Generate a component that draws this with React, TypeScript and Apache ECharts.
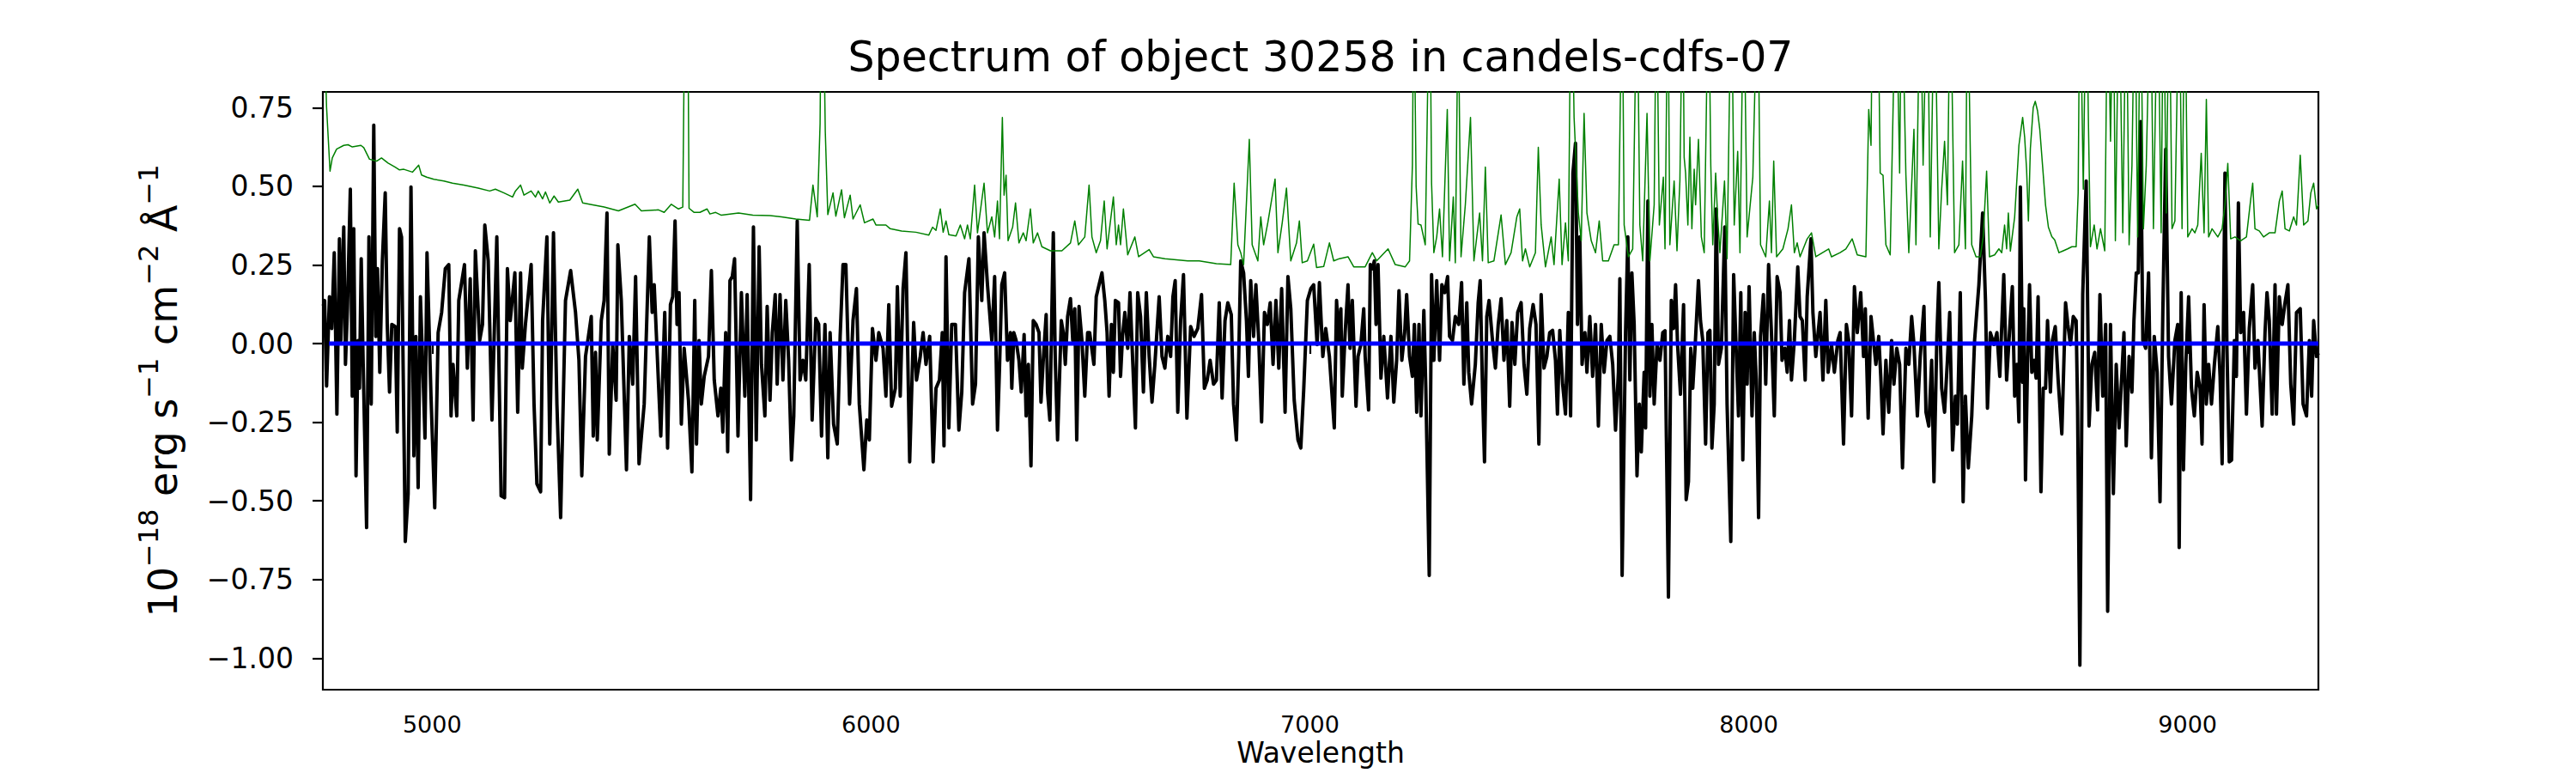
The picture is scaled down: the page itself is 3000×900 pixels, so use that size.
import React, { useEffect, useRef } from "react";
import * as echarts from "echarts";

const TITLE = "Spectrum of object 30258 in candels-cdfs-07";
const X_NAME = "Wavelength";
const X_TICKS = [5000, 6000, 7000, 8000, 9000];
const Y_TICKS = [-1, -0.75, -0.5, -0.25, 0, 0.25, 0.5, 0.75];
const X_RANGE = [4751, 9298];
const Y_RANGE = [-1.1, 0.8];

// contamination model (blue), flat zero
const contamData = [[4765, 0], [9298, 0]];

// observed flux (black), [wavelength, flux]
const flux1 = [
  [4752,0.12],[4755,0.137],[4759.5,-0.135],[4766,0.149],[4771.2,0.048],[4777,0.289],[4783,-0.224],[4788.8,0.333],[4792,0.010],[4798.6,0.371],[4802.5,-0.066],[4807,0.111],[4813.6,0.491],[4818,-0.167],[4821.4,0.365],[4826.6,-0.420],[4831.2,0.010],[4834.4,-0.142],[4838.4,0.270],[4842.9,-0.066],[4850.7,-0.585],[4856,0.339],[4861.2,-0.192],[4867,0.694],[4871.6,0.023],[4875.5,0.238],[4880.7,-0.091],[4886.6,0.263],[4893.1,0.479],[4897.7,0.061],[4902.9,-0.154],[4908.1,0.061],[4916,0.054],[4920.5,-0.281],[4925.7,0.365],[4930.3,0.339],[4938.8,-0.629],[4945.3,-0.477],[4951.8,0.498],[4958.3,-0.357],[4962.9,0.023],[4968.1,-0.458],[4973.3,0.149],[4978.5,-0.066],[4983.7,-0.300],[4988.3,0.289],[4997.4,-0.167],[5005.9,-0.522],[5013.7,0.035],[5021.6,0.099],[5030,0.238],[5037.9,0.251],[5043.1,-0.230],[5047.6,-0.066],[5056.1,-0.230],[5060.7,0.137],[5073.7,0.251],[5080.2,-0.078],[5086.8,0.206],[5093.3,-0.243],[5098.5,0.295],[5108.3,0.010],[5114.8,0.061],[5120,0.377],[5127.8,0.263],[5136.3,-0.243],[5147.4,0.339],[5157.2,-0.484],[5165,-0.490],[5171.5,0.238],[5178,0.073],[5188.5,0.225],[5195,-0.218],[5201.5,0.225],[5205.4,-0.078],[5212.6,0.061],[5225.6,0.251],[5232.2,-0.192],[5238.7,-0.446],[5247.2,-0.471],[5251.7,0.073],[5261.5,0.339],[5268,-0.319],[5276.5,0.352],[5284.3,-0.192],[5292.8,-0.553],[5303.9,0.137],[5315.6,0.232],[5326.7,0.099],[5334.5,-0.053],[5341,-0.420],[5349.5,-0.041],[5362.6,0.086],[5367.1,-0.294],[5372.3,-0.028],[5376.3,-0.306],[5385.4,0.073],[5391.9,0.137],[5398.4,0.415],[5403.6,-0.351],[5411.5,-0.003],[5419.3,-0.180],[5423.2,0.314],[5431,0.137],[5442.8,-0.401],[5449.3,0.023],[5457.1,-0.129],[5463.6,0.213],[5471.4,-0.382],[5483.2,-0.192],[5494.9,0.339],[5501.4,0.099],[5506,0.187],[5521,-0.294]
];
const flux2 = [
  [5530,0.099],[5536.5,-0.332],[5543,0.124],[5548.2,0.149],[5553.5,0.390],[5558,0.061],[5562.6,0.162],[5567.8,-0.256],[5574.3,-0.015],[5584.1,-0.180],[5591.9,-0.408],[5598.4,0.137],[5602.4,-0.319],[5608.2,0.010],[5613.4,-0.192],[5620,-0.104],[5629.7,-0.041],[5636.3,0.232],[5642.8,-0.116],[5651.3,-0.230],[5657.8,-0.142],[5662.3,-0.281],[5668.9,0.035],[5673.4,-0.344],[5678.6,0.200],[5683.9,0.213],[5689.1,0.270],[5696.9,-0.294],[5704.7,0.162],[5712.5,-0.167],[5717.8,0.156],[5725.6,-0.496],[5732.1,0.371],[5738.6,-0.306],[5745.1,0.308],[5750.4,-0.066],[5758.2,-0.230],[5763.4,0.118],[5769.9,-0.180],[5775.1,0.035],[5781.7,0.156],[5786.2,-0.129],[5792.7,0.156],[5799.3,-0.116],[5805.8,0.137],[5812.3,-0.053],[5818.8,-0.370],[5824,-0.230],[5831.9,0.390],[5838.4,-0.116],[5844.9,-0.053],[5851.4,-0.116],[5859.2,0.251],[5865.8,-0.243],[5874.2,0.080],[5880.8,0.061],[5887.3,-0.294],[5895.1,0.061],[5901.6,-0.363],[5906.8,0.035],[5914.7,-0.256],[5923.1,-0.319],[5929.7,0.023],[5936.2,0.251],[5942.7,0.251],[5951.2,-0.192],[5959,0.073],[5966.8,0.175],[5973.3,-0.192],[5983.8,-0.401],[5990.3,-0.243],[5996.2,-0.306],[6003.3,0.048],[6011.2,-0.053],[6017.7,0.035],[6027.5,-0.015],[6034,-0.167],[6040.5,0.124],[6047,-0.199],[6055.5,-0.142],[6060.1,0.181],[6066.6,-0.167],[6073.1,0.175],[6079.6,0.289],[6088.1,-0.376],[6097.2,0.067],[6103.7,-0.116],[6112.2,-0.041],[6118.7,0.035],[6125.3,-0.066],[6133.7,0.023],[6141.6,-0.376],[6148.1,-0.142],[6155.9,-0.116],[6162.4,0.035],[6166.3,-0.325],[6170.9,0.276],[6177.4,-0.268],[6183.9,0.061],[6192.4,0.061],[6200.2,-0.275],[6206.8,-0.154],[6213.3,0.162],[6223.1,0.270],[6231.5,-0.192],[6238.1,-0.129],[6244.6,0.339],[6252.4,0.137],[6257.6,0.352],[6265.4,0.187],[6275.2,0.010],[6281.7,0.213]
];
const flux3 = [
  [6288.2,-0.275],[6292.8,-0.078],[6298,0.187],[6304.5,0.225],[6311,-0.053],[6317.6,0.035],[6320.8,-0.142],[6325.4,0.035],[6330.6,0.010],[6337.1,-0.053],[6342.3,-0.154],[6348.9,0.029],[6353.4,-0.230],[6358.6,-0.066],[6364.5,-0.389],[6369.7,0.073],[6376.2,0.061],[6382.8,0.035],[6387.3,-0.186],[6392.5,-0.053],[6399.1,0.092],[6402.3,-0.154],[6407.5,-0.243],[6415.4,0.352],[6419.9,-0.053],[6425.1,-0.306],[6433.6,0.073],[6438.2,0.035],[6442.7,-0.066],[6448,0.086],[6454.5,0.143],[6459.7,0.010],[6464.3,0.111],[6468.8,-0.306],[6474,0.118],[6480.6,0.010],[6487.1,-0.167],[6493.6,0.035],[6498.2,0.035],[6507.9,-0.066],[6513.2,0.149],[6519.7,0.187],[6526.2,0.225],[6532.7,0.137],[6537.9,0.035],[6542.5,-0.167],[6547.7,0.061],[6552.3,-0.091],[6556.8,0.137],[6564,0.130],[6568.6,-0.104],[6573.1,0.023],[6578.4,0.099],[6584.9,-0.015],[6590.1,0.162],[6596.6,-0.066],[6602.5,-0.268],[6607.7,0.162],[6614.2,0.086],[6620.7,-0.154],[6627.3,0.162],[6633.8,-0.041],[6640.3,-0.186],[6646.8,-0.066],[6656.6,0.149],[6663.1,-0.041],[6669.6,-0.078],[6676.2,0.023],[6682.7,-0.041],[6687.9,0.149],[6693.1,0.200],[6699,-0.218],[6705.5,0.073],[6712,0.219],[6719.8,-0.237],[6728.3,0.054],[6736.1,0.023],[6744.6,0.048],[6753.1,0.156],[6759.6,-0.142],[6766.1,-0.116],[6772.7,-0.053],[6780.5,-0.129],[6787,-0.116],[6793.5,0.130],[6800,-0.173],[6806.6,0.073],[6813.1,0.130],[6820.9,0.092],[6826.1,-0.192],[6832.6,-0.306],[6837.9,-0.041],[6842.4,0.263],[6849,0.225],[6855.5,0.073],[6860,-0.104],[6865.2,0.200],[6871.8,0.023],[6877,0.187],[6883.5,0.010],[6890,-0.249],[6896.5,0.099],[6903.1,0.061],[6909.6,0.130],[6916.1,-0.066],[6922.6,0.137],[6929.1,-0.078],[6935.7,0.175],[6943.5,-0.218],[6950,0.213],[6956.5,0.111],[6964.3,-0.180],[6972.8,-0.306],[6979.3,-0.332],[6985.9,-0.148],[6994.3,0.137],[7002.2,0.175],[7008.7,0.187],[7016.5,-0.003],[7021.7,0.194],[7029.5,-0.041],[7036.1,0.048],[7044.5,-0.041]
];
const flux4 = [
  [7055.6,-0.268],[7060.8,0.137],[7066,0.010],[7070.6,0.111],[7073.8,-0.167],[7080.4,0.035],[7086.9,0.187],[7091.4,-0.015],[7096.7,0.137],[7105.1,-0.199],[7109.7,-0.041],[7116.2,-0.003],[7122.7,0.111],[7126,-0.041],[7133.8,-0.211],[7137.7,0.251],[7142.3,0.238],[7146.9,0.263],[7150.8,0.061],[7155.3,0.251],[7161.9,-0.110],[7168.4,0.023],[7176.9,-0.173],[7184.7,0.023],[7191.2,-0.186],[7197.7,-0.053],[7203,0.168],[7209.5,-0.053],[7216,0.035],[7220.5,0.156],[7227.1,-0.041],[7233.6,-0.104],[7238.1,0.061],[7243.4,-0.218],[7248.6,0.061],[7253.1,-0.230],[7259.7,0.105],[7264.2,-0.142],[7272,-0.737],[7277.3,0.219],[7282.5,-0.053],[7289,0.200],[7295.5,-0.053],[7300.7,0.187],[7307.3,0.162],[7313.8,0.213],[7318.3,0.023],[7324.9,0.010],[7331.4,0.086],[7339.2,0.061],[7345.7,0.194],[7350.9,-0.129],[7357.5,0.130],[7362,-0.091],[7368.5,-0.192],[7377,-0.066],[7383.5,0.130],[7388.1,0.200],[7393.3,-0.142],[7397.9,-0.376],[7403.1,0.086],[7408.3,0.137],[7416.1,0.010],[7422.7,-0.078],[7429.2,0.061],[7435.7,0.143],[7442.2,-0.053],[7448.7,0.073],[7455.3,-0.199],[7460.5,0.067],[7467,-0.066],[7473.5,0.099],[7481.3,0.130],[7487.9,-0.066],[7494.4,-0.161],[7500.9,0.048],[7508.7,0.124],[7515.2,0.061],[7521.8,-0.319],[7527,0.156],[7533.5,-0.078],[7540,-0.041],[7546.5,0.035],[7553.1,0.042],[7559.6,-0.053],[7564.1,-0.224],[7569.4,0.042],[7575.9,-0.129],[7582.4,-0.224],[7588.9,0.099],[7594.1,-0.230],[7599.4,0.542],[7605.2,0.637],[7609.8,0.061],[7615,0.339],[7620.2,-0.066],[7626.7,0.035],[7631.3,-0.091],[7637.8,0.086],[7644.3,-0.104],[7650.9,0.061],[7657.4,-0.262],[7663.9,0.061],[7670.4,-0.091],[7676.9,0.010],[7683.5,0.023],[7690,-0.066],[7696.5,-0.275],[7703,-0.091],[7706.3,0.206],[7711.5,-0.737],[7719.3,0.035],[7724.5,0.339],[7729.1,-0.116],[7733.7,0.225],[7738.9,0.061],[7745.4,-0.420],[7750.6,-0.192],[7755.2,-0.344],[7761.7,-0.091],[7765,-0.268],[7770.2,0.453],[7774.7,-0.167],[7779.3,0.061],[7784.5,-0.192],[7791,-0.003],[7797.6,-0.053],[7804.1,0.035]
];
const flux5 = [
  [7809.2,0.041],[7817,-0.806],[7823.5,0.137],[7828.7,0.048],[7833.3,0.187],[7837.8,-0.003],[7844.4,-0.161],[7851.5,0.124],[7857.4,-0.496],[7862.6,-0.439],[7867.8,-0.015],[7872.4,-0.142],[7877.6,-0.015],[7885.4,0.200],[7890,0.073],[7895.2,0.010],[7901.7,-0.319],[7907,0.035],[7911.5,0.042],[7916.1,-0.332],[7921.3,-0.192],[7925.9,0.428],[7931.1,-0.066],[7937.6,-0.015],[7945.4,0.371],[7950.6,-0.192],[7959.1,-0.629],[7965.6,0.219],[7972.2,-0.053],[7976.7,-0.230],[7981.9,0.162],[7986.5,-0.370],[7991.7,0.099],[7996.3,-0.129],[8000.8,0.181],[8007.4,-0.230],[8012.6,0.035],[8017.1,-0.116],[8022.4,-0.553],[8026.9,0.023],[8033.4,0.156],[8038.7,-0.129],[8045.2,0.251],[8051.7,0.035],[8058.2,-0.230],[8064.7,0.213],[8071.3,0.162],[8075.8,-0.053],[8082.3,-0.015],[8087.6,-0.091],[8092.8,0.073],[8097.3,-0.116],[8103.9,0.010],[8111.7,0.244],[8116.9,0.086],[8122.1,0.073],[8128.6,-0.116],[8133.2,0.149],[8141.7,0.333],[8146.2,0.099],[8152.8,-0.041],[8162.5,0.099],[8169.1,-0.116],[8175.6,0.137],[8180.8,-0.091],[8188.6,-0.003],[8195.1,-0.091],[8203,0.010],[8208.2,0.035],[8216,-0.319],[8222.5,0.061],[8227.7,0.010],[8234.3,-0.230],[8240.8,0.181],[8247.3,0.035],[8255.1,0.162],[8261.6,-0.041],[8265.6,0.111],[8272.1,-0.237],[8278.6,0.086],[8285.1,-0.003],[8289.7,-0.066],[8296.2,0.023],[8300.8,-0.104],[8306,-0.287],[8312.5,-0.053],[8319,-0.218],[8325.5,0.010],[8330.8,-0.129],[8337.3,-0.015],[8343.8,-0.066],[8350.3,-0.395],[8358.1,-0.015],[8364.7,-0.066],[8371.2,0.086],[8376.4,-0.003],[8384.2,-0.230],[8390.7,-0.041],[8399.2,0.118],[8403.8,-0.218],[8410.3,-0.262],[8416.8,-0.053],[8422,-0.439],[8428.6,0.023],[8433.1,0.194],[8439.6,-0.142],[8446.2,-0.218],[8452.7,-0.053],[8457.9,0.099],[8464.4,-0.338],[8470.9,-0.167],[8475.5,-0.256],[8482,0.162],[8488.5,-0.503],[8493.7,-0.167],[8500.3,-0.395],[8508.1,-0.230],[8514.6,0.010],[8524.4,0.187],[8532.9,0.415],[8539.4,0.137],[8543.9,-0.205],[8550.5,0.035],[8558.9,-0.003],[8565.5,0.035],[8572,-0.104]
];
const flux6 = [
  [8581.1,0.219],[8587.6,-0.116],[8594.1,0.035],[8600.6,0.181],[8605.9,-0.167],[8611.1,-0.066],[8615.6,-0.249],[8618.9,0.498],[8624.1,-0.123],[8626.7,0.111],[8630.6,-0.433],[8635.2,-0.066],[8639.8,0.187],[8645,-0.091],[8650.2,-0.053],[8654.8,-0.110],[8659.3,0.149],[8665.8,-0.471],[8671.1,-0.142],[8676.3,-0.142],[8680.8,0.073],[8687.4,-0.154],[8691.9,0.010],[8698.4,0.054],[8705,-0.116],[8713.4,-0.287],[8721.9,0.130],[8727.1,0.061],[8733,-0.003],[8739.5,0.086],[8746,0.073],[8749.3,-0.205],[8754.5,-1.022],[8761,0.156],[8768.9,0.517],[8775.4,-0.262],[8781.9,-0.066],[8788.4,-0.028],[8794.9,-0.211],[8800.2,0.156],[8806.7,-0.167],[8813.2,0.061],[8817.8,-0.851],[8824.3,0.061],[8830.8,-0.477],[8837.3,-0.066],[8843.8,-0.268],[8850.4,-0.091],[8854.9,0.035],[8860.1,-0.325],[8866.7,-0.041],[8873.2,-0.154],[8877.7,0.073],[8883,0.225],[8887.5,0.225],[8892.7,0.706],[8898,0.010],[8904.5,-0.015],[8911,0.225],[8917.5,-0.363],[8924,0.023],[8930.6,-0.091],[8937.1,-0.503],[8943.6,0.105],[8950.1,0.618],[8956.6,-0.041],[8963.2,-0.192],[8971,0.010],[8977.5,0.061],[8980.8,-0.648],[8985.3,0.162],[8990.5,-0.401],[8995.8,-0.066],[9002.3,0.149],[9008.8,-0.142],[9015.3,-0.230],[9021.8,-0.091],[9028.4,-0.142],[9032.9,-0.319],[9037.5,0.124],[9042.7,-0.192],[9047.9,-0.066],[9054.4,-0.192],[9061,-0.066],[9068.8,0.054],[9074,-0.104],[9078.6,-0.382],[9085.1,0.542],[9089.6,-0.015],[9094.9,-0.376],[9100.1,-0.370],[9106.6,0.010],[9111.2,-0.104],[9115.7,0.447],[9120.9,0.035],[9127.5,0.099],[9134,-0.224],[9140.5,0.048],[9148.3,0.187],[9153.5,-0.078],[9160.1,0.010],[9169.8,-0.262],[9176.4,0.035],[9180.9,0.162],[9186.1,0.073],[9192.7,-0.224],[9199.2,0.187],[9202.4,-0.224],[9209,0.149],[9215.5,0.061],[9222,0.130],[9228.5,0.187],[9235,-0.129],[9241.6,-0.256],[9248.1,0.099],[9256.6,0.111],[9263.1,-0.192],[9270.9,-0.230],[9277.4,0.010],[9282.6,-0.167],[9287.2,0.073],[9293.7,-0.041],[9298,-0.03]
];

// noise / sky spectrum (green), [wavelength, value]
const sky1 = [
  [4751,1.1],[4754.2,1.0],[4759.5,0.75],[4767.3,0.548],[4772.5,0.59],[4782.3,0.618],[4798.6,0.630],[4808.4,0.632],[4818.1,0.625],[4837.7,0.630],[4844.2,0.623],[4857.3,0.586],[4873.6,0.580],[4884.6,0.590],[4899.6,0.574],[4915.9,0.561],[4925.7,0.552],[4935.5,0.554],[4955.1,0.545],[4969.4,0.567],[4975.9,0.536],[4987.6,0.529],[5004,0.522],[5026.8,0.517],[5046.3,0.510],[5072.4,0.504],[5105,0.494],[5131.1,0.485],[5144.1,0.491],[5163.7,0.479],[5183.3,0.466],[5189.8,0.485],[5201.5,0.504],[5209.3,0.472],[5225.6,0.485],[5235.4,0.466],[5241.9,0.485],[5251.7,0.460],[5258.2,0.482],[5268,0.447],[5277.8,0.469],[5287.6,0.450],[5313.7,0.456],[5331.9,0.491],[5343,0.447],[5365.8,0.441],[5391.9,0.434],[5424.5,0.422],[5462.3,0.443],[5476.7,0.422],[5515.8,0.425]
];
const sky2 = [
  [5528.7,0.417],[5545,0.443],[5561.3,0.428],[5571.1,0.434],[5574.3,0.9],[5577.6,1.3],[5582.1,1.2],[5585.4,0.43],[5597.1,0.417],[5610.2,0.417],[5626.5,0.428],[5633,0.412],[5646,0.417],[5659.1,0.408],[5698.2,0.415],[5730.8,0.408],[5769.9,0.407],[5796,0.403],[5828.6,0.396],[5859.9,0.392],[5867.7,0.504],[5877.5,0.403],[5884,0.7],[5888.6,1.5],[5892.5,1.0],[5895.8,0.675],[5901.6,0.41],[5913.4,0.479],[5919.9,0.405],[5932.9,0.489],[5939.4,0.40],[5952.5,0.472],[5959,0.396],[5975.3,0.441],[5985.1,0.384],[6004.6,0.396],[6011.2,0.377],[6034,0.377],[6043.8,0.365],[6069.8,0.358],[6102.4,0.354],[6131.8,0.345],[6140.3,0.37],[6148.1,0.36],[6157.9,0.428],[6164.4,0.354],[6170.9,0.390],[6177.4,0.346],[6193.7,0.342],[6203.5,0.377],[6213.3,0.333],[6219.8,0.377],[6226.3,0.333],[6236.1,0.504],[6242.6,0.352],[6257.6,0.510],[6265.4,0.352],[6275.2,0.403],[6281.7,0.339]
];
const sky3 = [
  [6288.2,0.453],[6292.8,0.333],[6299.3,0.719],[6303.2,0.472],[6307.8,0.535],[6312.3,0.327],[6322.8,0.371],[6329.3,0.447],[6337.1,0.320],[6346.9,0.352],[6353.4,0.327],[6363.2,0.428],[6369.7,0.320],[6379.5,0.352],[6389.3,0.308],[6408.8,0.295],[6434.9,0.295],[6454.5,0.320],[6464.3,0.390],[6472.7,0.314],[6487.1,0.339],[6496.9,0.504],[6503.4,0.339],[6513.2,0.289],[6522.9,0.327],[6531.4,0.453],[6537.9,0.301],[6552.3,0.466],[6558.8,0.314],[6564,0.377],[6568.6,0.314],[6575.1,0.428],[6584.9,0.282],[6601.2,0.339],[6609.7,0.276],[6633.8,0.299],[6643.6,0.276],[6669.6,0.270],[6721.8,0.263],[6747.9,0.263],[6787,0.254],[6819.6,0.251],[6827.4,0.510],[6835.9,0.314],[6842.4,0.289],[6849,0.251],[6862,0.649],[6868.5,0.314],[6881.5,0.263],[6888.1,0.403],[6894.6,0.314],[6904.4,0.386],[6920.7,0.523],[6927.2,0.289],[6937,0.384],[6946.7,0.494],[6956.5,0.263],[6969.6,0.320],[6976.1,0.390],[6982.6,0.257],[6994.3,0.263],[7008.7,0.316],[7015.2,0.242],[7031.5,0.245],[7044.5,0.320]
];
const sky4 = [
  [7054.3,0.263],[7067.3,0.270],[7086.9,0.276],[7099.9,0.244],[7126,0.244],[7142.3,0.289],[7152.1,0.263],[7178.2,0.301],[7194.5,0.251],[7217.3,0.244],[7227.1,0.263],[7233.6,0.567],[7236.8,1.2],[7242.1,0.5],[7246.6,0.380],[7253.1,0.377],[7262.9,0.314],[7269.4,0.9],[7272.7,1.3],[7277.3,0.51],[7282.5,0.289],[7289,0.339],[7295.5,0.428],[7302.1,0.276],[7313.1,0.744],[7318.3,0.263],[7326.8,0.466],[7331.4,0.257],[7337.9,1.1],[7344.4,0.276],[7354.2,0.441],[7366,0.719],[7373.8,0.263],[7386.8,0.415],[7393.3,0.263],[7399.8,0.561],[7406.4,0.257],[7419.4,0.263],[7435.7,0.409],[7445.5,0.251],[7458.5,0.289],[7471.6,0.403],[7478.1,0.428],[7484.6,0.263],[7491.1,0.301],[7500.9,0.244],[7513.9,0.289],[7520.5,0.624],[7527,0.377],[7536.8,0.244],[7549.8,0.339],[7556.3,0.251],[7568.1,0.523],[7574.6,0.251],[7582.4,0.384],[7588.9,0.263],[7595.4,1.3],[7602,0.719],[7611.8,0.415],[7618.3,0.327],[7624.8,0.732],[7631.3,0.415],[7641.1,0.327],[7650.9,0.289],[7659.3,0.390],[7667.2,0.263],[7680.2,0.263],[7693.2,0.314],[7703,0.314],[7711.5,1.2],[7716.1,0.377],[7725.8,0.276],[7735.6,0.301],[7745.4,1.2],[7751.9,0.377],[7758.4,0.263],[7768.2,0.732],[7774.7,0.263],[7784.5,0.441],[7789.7,1.2],[7796.3,0.377],[7805.4,0.529]
];
const sky5 = [
  [7809.2,0.301],[7815.7,1.2],[7820.2,0.314],[7830,0.517],[7836.5,0.295],[7843.1,0.517],[7849.6,1.2],[7852.8,0.592],[7856.1,0.542],[7861.3,0.377],[7865.9,0.656],[7870.4,0.365],[7875.7,0.554],[7878.9,0.441],[7885.4,0.649],[7892,0.339],[7898.5,0.289],[7908.3,1.2],[7913.5,0.567],[7918,0.314],[7924.6,0.542],[7929.1,0.402],[7934.3,0.289],[7944.8,0.517],[7950.6,0.270],[7960.4,1.2],[7966.9,0.377],[7974.8,0.611],[7980,0.289],[7988.5,1.2],[7996.3,0.339],[8009.3,0.529],[8020.4,1.2],[8026.9,0.314],[8038.7,0.276],[8047.1,0.453],[8051.7,0.289],[8056.9,0.580],[8063.4,0.276],[8077.8,0.301],[8089.5,0.365],[8097.3,0.441],[8103.9,0.289],[8110.4,0.320],[8116.9,0.276],[8133.2,0.333],[8143,0.352],[8152.8,0.276],[8182.1,0.301],[8188.6,0.276],[8208.2,0.289],[8221.2,0.301],[8235.6,0.333],[8247.3,0.282],[8266.9,0.276],[8273.4,0.744],[8278.6,0.63],[8283.2,1.3],[8292.9,1.3],[8299.5,0.542],[8306,0.535],[8312.5,0.314],[8322.3,0.282],[8335.3,1.2],[8343.8,0.542],[8348.4,1.2],[8358.1,0.535],[8364.7,0.289],[8376.4,0.681],[8381,0.314],[8390.7,1.2],[8397.3,0.567],[8407,1.2],[8413.6,0.339],[8423.3,1.2],[8433.1,0.301],[8439.6,0.491],[8446.2,0.643],[8452.7,0.441],[8459.2,1.2],[8469,0.289],[8478.8,0.314],[8487.2,0.580],[8493.7,0.301],[8498.3,1.2],[8508.1,0.314],[8517.9,0.276],[8527.7,0.276],[8534.2,0.339],[8542,0.548],[8548.5,0.276],[8560.3,0.282],[8570,0.301]
];
const sky6 = [
  [8576.5,0.289],[8583,0.377],[8587.6,0.301],[8591.5,0.415],[8596.1,0.294],[8605.9,0.402],[8615.6,0.630],[8624.1,0.719],[8628.7,0.656],[8633.2,0.55],[8637.2,0.390],[8641.7,0.62],[8648.2,0.75],[8652.8,0.770],[8658,0.74],[8663.2,0.68],[8669.8,0.56],[8676.3,0.44],[8682.8,0.37],[8690.6,0.340],[8697.1,0.330],[8706.9,0.289],[8716.7,0.295],[8726.5,0.301],[8736.3,0.308],[8746,0.308],[8750.6,0.479],[8754.5,1.2],[8762.3,0.491],[8768.9,1.2],[8774.1,0.694],[8778.6,0.308],[8787.1,0.377],[8793.6,0.301],[8801.5,0.365],[8811.2,0.295],[8817.8,1.2],[8824.3,0.643],[8830.8,1.2],[8835.4,0.327],[8843.8,1.2],[8852.3,0.352],[8860.1,1.2],[8866.7,0.314],[8873.2,0.567],[8879.7,1.2],[8886.2,0.339],[8892.7,1.2],[8899.3,0.365],[8905.8,0.567],[8915.6,1.2],[8922.1,0.365],[8931.9,1.2],[8939.7,0.352],[8944.9,1.2],[8951.4,0.415],[8958,1.2],[8964.5,0.365],[8971,0.390],[8980.8,1.2],[8987.3,0.365],[8993.8,1.2],[9000.3,0.339],[9010.1,0.365],[9016.6,0.352],[9023.1,0.377],[9031,0.605],[9037.5,0.352],[9042.7,0.776],[9047.9,0.339],[9055.7,0.365],[9068.8,0.339],[9078.6,0.365],[9085.1,0.441],[9091.6,0.573],[9098.1,0.333],[9107.9,0.339],[9120.9,0.327],[9134,0.339],[9143.8,0.459],[9148.3,0.510],[9153.5,0.365],[9163.3,0.358],[9173.1,0.339],[9186.1,0.352],[9199.2,0.352],[9209,0.453],[9215.5,0.485],[9222,0.365],[9231.8,0.358],[9241.6,0.403],[9248.1,0.377],[9256.6,0.599],[9264.4,0.377],[9274.2,0.390],[9280.7,0.479],[9287.2,0.510],[9293.7,0.428],[9298,0.441]
];

const FONT = "DejaVu Sans";

export default function App() {
  const ref = useRef<HTMLDivElement>(null);
  useEffect(() => {
    document.body.style.margin = "0";
    if (!ref.current) return;
    const chart = echarts.init(ref.current, undefined, { renderer: "svg" });
    const fluxData = [...flux1, ...flux2, ...flux3, ...flux4, ...flux5, ...flux6];
    const skyData = [...sky1, ...sky2, ...sky3, ...sky4, ...sky5, ...sky6];
    const minus = (s: string) => s.replace("-", "\u2212");
    chart.setOption({
      animation: false,
      backgroundColor: "#ffffff",
      grid: {
        left: 376, right: 300, top: 107, bottom: 97,
        show: true, borderColor: "#000", borderWidth: 2.2, backgroundColor: "transparent",
      },
      xAxis: {
        type: "value", min: X_RANGE[0], max: X_RANGE[1],
        axisLine: { show: false },
        splitLine: { show: false },
        axisTick: { show: true, length: 12, lineStyle: { color: "#000", width: 2.2 }, customValues: X_TICKS },
        axisLabel: {
          customValues: X_TICKS, margin: 27, fontSize: 27, fontFamily: FONT, color: "#000",
          formatter: (v: number) => String(v),
        },
      },
      yAxis: {
        type: "value", min: Y_RANGE[0], max: Y_RANGE[1],
        axisLine: { show: false },
        splitLine: { show: false },
        axisTick: { show: true, length: 12, lineStyle: { color: "#000", width: 2.2 }, customValues: Y_TICKS },
        axisLabel: {
          customValues: Y_TICKS, margin: 34, fontSize: 33, fontFamily: FONT, color: "#000",
          formatter: (v: number) => minus(v.toFixed(2)),
        },
      },
      graphic: [
        {
          type: "text", x: 1538, y: 66,
          style: { text: TITLE, fill: "#000", fontSize: 49, fontFamily: FONT, align: "center", verticalAlign: "middle" },
        },
        {
          type: "text", x: 1538, y: 876,
          style: { text: X_NAME, fill: "#000", fontSize: 33, fontFamily: FONT, align: "center", verticalAlign: "middle" },
        },
        {
          type: "text", x: 185, y: 455, rotation: Math.PI / 2,
          style: {
            text: "{b|10}{s|\u221218}{b| erg s}{s|\u22121}{b| cm}{s|\u22122}{b| \u00C5}{s|\u22121}",
            fill: "#000", align: "center", verticalAlign: "middle", fontFamily: FONT,
            rich: {
              b: { fontSize: 46, lineHeight: 56, verticalAlign: "bottom", fontFamily: FONT, fill: "#000" },
              s: { fontSize: 32, lineHeight: 32, verticalAlign: "top", fontFamily: FONT, fill: "#000" },
            },
          },
        },
      ],
      series: [
        {
          name: "flux", type: "line", data: fluxData, symbol: "none", showSymbol: false,
          lineStyle: { color: "#000000", width: 4, join: "round" }, z: 2, clip: true,
        },
        {
          name: "contam", type: "line", data: contamData, symbol: "none", showSymbol: false,
          lineStyle: { color: "#0000ff", width: 5 }, z: 3, clip: true,
        },
        {
          name: "sky", type: "line", data: skyData, symbol: "none", showSymbol: false,
          lineStyle: { color: "#008000", width: 1.5, join: "round" }, z: 4, clip: true,
        },
      ],
    });
    return () => chart.dispose();
  }, []);
  return <div ref={ref} style={{ width: 3000, height: 900 }} />;
}
